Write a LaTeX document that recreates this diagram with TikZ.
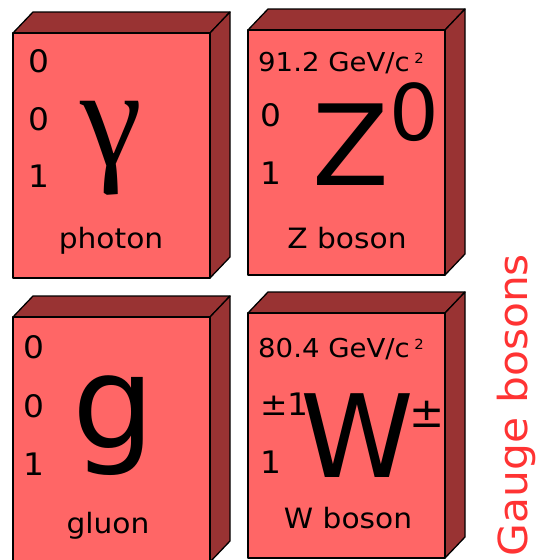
\documentclass[tikz,border=0pt]{standalone}
\usepackage{fontspec}
\setmainfont{DejaVu Sans}[FakeStretch=1.06]
\newfontfamily\symfont{DejaVu Sans}
\newfontfamily\gammafont{Liberation Serif}
\usetikzlibrary{positioning}
\definecolor{boxfront}{RGB}{255,102,102}
\definecolor{boxdark}{RGB}{153,51,51}
\definecolor{gaugered}{RGB}{255,51,51}

\begin{document}
\begin{tikzpicture}[x=1pt, y=-1pt,
    front/.style={fill=boxfront, draw=black, line width=1.3pt, line join=round},
    dark/.style={fill=boxdark, draw=black, line width=1.3pt, line join=round},
    qnum/.style={anchor=base west, inner sep=0pt, font=\fontsize{31}{31}\selectfont},
    mass/.style={anchor=base west, inner sep=0pt, font=\fontsize{26}{26}\selectfont},
    pname/.style={anchor=base, inner sep=0pt, font=\fontsize{28}{28}\selectfont},
    bigsym/.style={inner sep=0pt, font=\symfont\fontsize{#1}{#1}\selectfont}]
        \useasboundingbox (0,0) rectangle (538,560);
        % the four boxes
        \foreach \bx/\by in {13/33, 248/30, 13/317, 248/313}{
          \filldraw[dark] (\bx,\by) -- ++(20,-21) -- ++(197,0) -- ++(-20,21) -- cycle;
          \filldraw[dark] ({\bx+197},\by) -- ++(20,-21) -- ++(0,245) -- ++(-20,21) -- cycle;
          \filldraw[front] (\bx,\by) rectangle ++(197,245);
        }
        % photon
        \node[qnum] (ph1) at (28,72) {0};
        \node[qnum] (ph2) at (28,130) {0};
        \node[qnum] (ph3) at (28,187) {1};
        \node[inner sep=0pt, anchor=base, font=\gammafont\fontsize{140}{140}\selectfont] (phsym) at (111,165) {γ};
        \node[pname] (phname) at (111,248) {photon};
        % Z boson
        \node[mass] (zmass) at (258,71) {91.2 GeV/c\,{\fontsize{14}{14}\selectfont\raisebox{8pt}{2}}};
        \node[qnum] (zq) at (260,126) {0};
        \node[qnum] (zs) at (260,184) {1};
        \node[bigsym=112, anchor=base west] (zsym) at (312,185) {Z};
        \node[bigsym=78, anchor=base west] (zsup) at ([yshift=45pt]zsym.base east) {0};
        \node[pname] (zname) at (347,248) {Z boson};
        % gluon
        \node[qnum] (g1) at (23,358) {0};
        \node[qnum] (g2) at (23,417) {0};
        \node[qnum] (g3) at (23,475) {1};
        \node[bigsym=130, anchor=base] (gsym) at (114,448) {g};
        \node[pname] (gname) at (108,533) {gluon};
        % W boson
        \node[mass] (wmass) at (258,357) {80.4 GeV/c\,{\fontsize{14}{14}\selectfont\raisebox{8pt}{2}}};
        \node[qnum] (wq) at (260,415) {±1};
        \node[qnum] (ws) at (260,473) {1};
        \node[bigsym=115, anchor=base west] (wsym) at (300,477) {W};
        \node[bigsym=42, anchor=base west] (wsup) at ([xshift=-5pt, yshift=50pt]wsym.base east) {±};
        \node[pname] (wname) at (348,528) {W boson};
        % label
        \node[rotate=90, anchor=base, inner sep=0pt, text=gaugered,
              font=\fontsize{40}{40}\selectfont] (gauge) at (527,405) {Gauge bosons};
\end{tikzpicture}
\end{document}
